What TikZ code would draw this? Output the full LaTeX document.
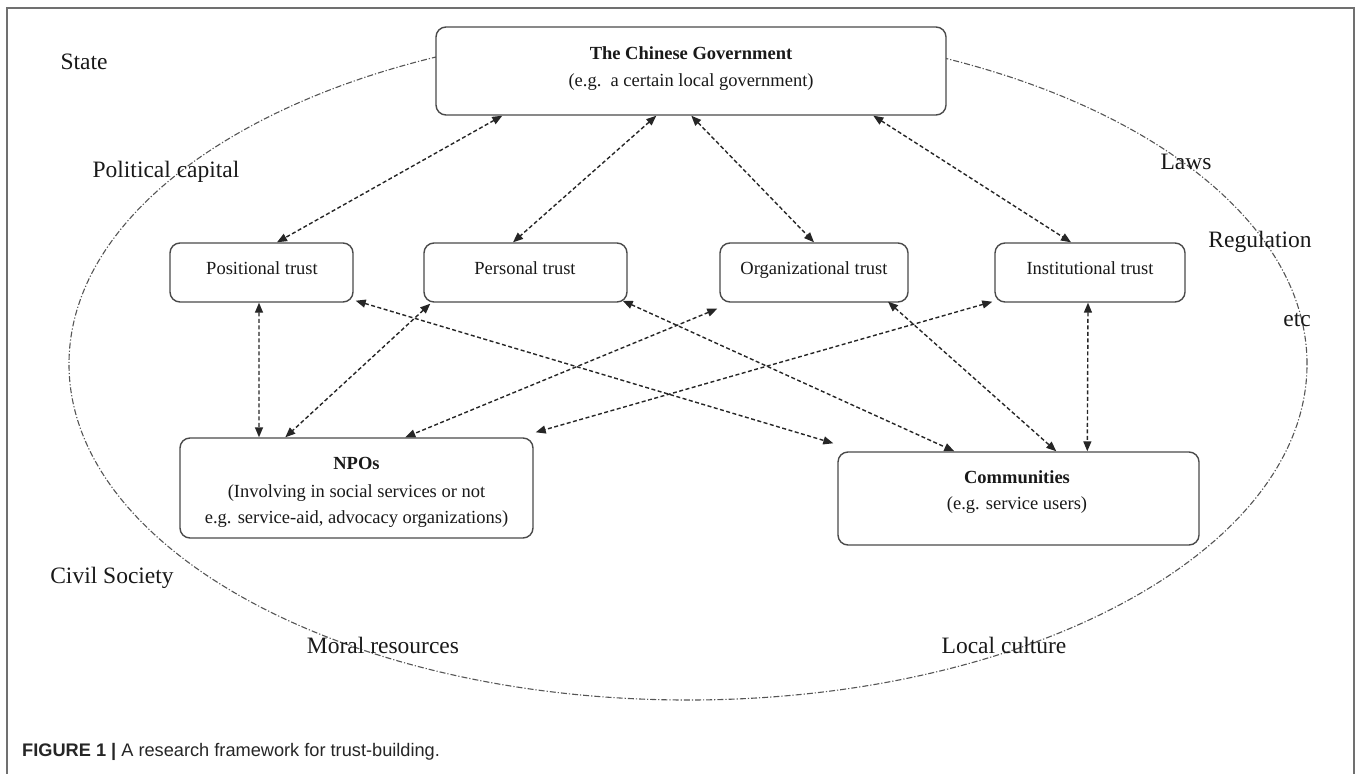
\documentclass[tikz,border=0pt]{standalone}
\usepackage{fontspec}
\setmainfont{Liberation Serif}
\newfontfamily\capfont{Liberation Sans}
\usetikzlibrary{arrows.meta,calc}
\definecolor{boxgray}{HTML}{4A4A4A}
\definecolor{arrowgray}{HTML}{262626}
\definecolor{ringgray}{HTML}{555555}
\definecolor{framegray}{HTML}{707070}
\begin{document}
\begin{tikzpicture}[x=1bp,y=-1bp,
  box/.style={draw=boxgray, line width=1.4bp, rounded corners=10bp, fill=white, inner sep=0pt},
  lbl/.style={font=\fontsize{23.5bp}{26bp}\selectfont, text=black!90, inner sep=0pt},
  btxt/.style={font=\fontsize{18.5bp}{21bp}\selectfont, text=black!90, inner sep=0pt, text height=13bp, text depth=4bp},
  link/.style={draw=arrowgray, line width=1.4bp, dash pattern=on 4bp off 2.5bp,
    {Triangle[length=10bp,width=8bp]}-{Triangle[length=10bp,width=8bp]}},
  ring/.style={draw=ringgray, line width=1.1bp, dash pattern=on 6bp off 2bp on 1.2bp off 2bp}]
\useasboundingbox (0,0) rectangle (1360,773);
% frame
\draw[framegray, line width=1.5bp] (7,790) -- (7,8) -- (1354,8) -- (1354,790);
% ellipse
\draw[ring] (688,364) ellipse [x radius=619bp, y radius=336bp];
% boxes
\node[box, minimum width=510bp, minimum height=88bp] (gov) at (691,71) {};
\node[box, minimum width=183bp, minimum height=59bp] (pos) at (261.5,272.5) {};
\node[box, minimum width=203bp, minimum height=59bp] (per) at (525.5,272.5) {};
\node[box, minimum width=188bp, minimum height=59bp] (org) at (814,272.5) {};
\node[box, minimum width=190bp, minimum height=59bp] (ins) at (1090,272.5) {};
\node[box, minimum width=353bp, minimum height=100bp] (npo) at (356.5,488) {};
\node[box, minimum width=361bp, minimum height=93bp] (com) at (1018.5,498.5) {};
% box texts
\node[btxt] (govT) at (691,55) {\bfseries The Chinese Government};
\node[btxt] (govS) at (691,82) {(e.g.\ \ a certain local government)};
\node[btxt] (posT) at (262,270) {Positional trust};
\node[btxt] (perT) at (525,270) {Personal trust};
\node[btxt] (orgT) at (814,270) {Organizational trust};
\node[btxt] (insT) at (1090,270) {Institutional trust};
\node[btxt] (npoT) at (356.5,465) {\bfseries NPOs};
\node[btxt] (npoA) at (356.5,493) {(Involving in social services or not};
\node[btxt] (npoB) at (356.5,519) {e.g. service-aid, advocacy organizations)};
\node[btxt] (comT) at (1017,479) {\bfseries Communities};
\node[btxt] (comS) at (1017,505) {(e.g. service users)};
% outer labels
\node[lbl] (state) at (84,62) {State};
\node[lbl] (polcap) at (166,172) {Political capital};
\node[lbl] (laws) at (1186,162) {Laws};
\node[lbl] (reg) at (1260,242) {Regulation};
\node[lbl] (etc) at (1297,320) {etc};
\node[lbl] (civil) at (112,578) {Civil Society};
\node[lbl] (moral) at (383,645) {Moral resources};
\node[lbl] (local) at (1004,645) {Local culture};
% caption
\node[anchor=west, inner sep=0pt, font=\capfont\fontsize{18.2bp}{21bp}\selectfont, text=black!85] (cap) at (22,752)
  {\textbf{FIGURE 1 |} A research framework for trust-building.};
% connectors: government to trust types
\draw[link] ([xshift=67bp]gov.south west) -- ([xshift=15.5bp]pos.north);
\draw[link] ([xshift=221bp]gov.south west) -- ([xshift=-12.5bp]per.north);
\draw[link] ([xshift=256bp]gov.south west) -- (org.north);
\draw[link] ([xshift=438bp]gov.south west) -- ([xshift=-19bp]ins.north);
% trust types to NPOs
\draw[link] ([xshift=-2.5bp]pos.south) -- (npo.north -| 259,0);
\draw[link] ([xshift=7bp,yshift=-1bp]per.south west) -- ([xshift=106bp]npo.north west);
\draw[link] ([xshift=-2bp,yshift=-6bp]org.south west) -- ([xshift=226bp]npo.north west);
\draw[link] ([xshift=-2bp,yshift=1bp]ins.south west) -- ([xshift=2bp,yshift=5bp]npo.north east);
% trust types to Communities
\draw[link] ([xshift=2bp,yshift=2bp]pos.south east) -- ([xshift=-4bp,yshift=8bp]com.north west);
\draw[link] ([xshift=-5bp,yshift=2bp]per.south east) -- ([xshift=117bp]com.north west);
\draw[link] ([xshift=74bp,yshift=1bp]org.south) -- ([xshift=219bp]com.north west);
\draw[link] ([xshift=-2bp]ins.south) -- ([xshift=250bp]com.north west);
\end{tikzpicture}
\end{document}
